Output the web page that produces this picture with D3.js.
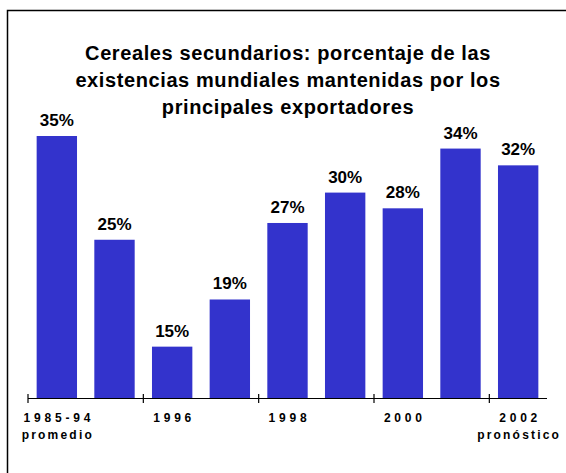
<!DOCTYPE html>
<html>
<head>
<meta charset="utf-8">
<script src="https://cdn.jsdelivr.net/npm/d3@7"></script>
<style>
  body { margin: 0; background: #fff; }
  svg { display: block; font-family: Arial, "Liberation Sans", sans-serif; }
</style>
</head>
<body>
<div id="chart"></div>
<script>
// Data
const categories = ['1985-94', '1995', '1996', '1997', '1998', '1999', '2000', '2001', '2002'];
const shares = [35, 25.1, 14.9, 19.4, 26.7, 29.6, 28.1, 33.8, 32.2];
// Only every second category gets a label, some with a second line
const tickLabels = ['1985-94', '', '1996', '', '1998', '', '2000', '', '2002'];
const tickSubLabels = ['promedio', '', '', '', '', '', '', '', 'pronóstico'];
const titleLines = [
  'Cereales secundarios: porcentaje de las',
  'existencias mundiales mantenidas por los',
  'principales exportadores'
];

const chartWidth = 566;
const chartHeight = 473;
const axisY = 398;

const svg = d3.select('#chart')
  .append('svg')
  .attr('width', chartWidth)
  .attr('height', chartHeight);

// Frame, cropped on the right and bottom like the original
svg.append('rect')
  .attr('x', 7.5)
  .attr('y', 10.5)
  .attr('width', 700)
  .attr('height', 600)
  .attr('fill', '#fff')
  .attr('stroke', '#000')
  .attr('stroke-width', 1.5);

// Title
svg.append('text')
  .attr('text-anchor', 'middle')
  .attr('font-size', 20)
  .attr('font-weight', 'bold')
  .attr('letter-spacing', 0.6)
  .selectAll('tspan')
  .data(titleLines)
  .enter()
  .append('tspan')
  .attr('x', 288)
  .attr('y', (d, i) => 60 + i * 27)
  .text(d => d);

// Scales: band for categories, linear for the value (axis does not start at 0)
const x = d3.scaleBand()
  .domain(categories)
  .range([28, 547])
  .paddingInner(0.3)
  .paddingOuter(0.15);

const y = d3.scaleLinear()
  .domain([10, 35])
  .range([axisY, 136]);

// Bars
svg.selectAll('.bar')
  .data(shares)
  .enter()
  .append('rect')
  .attr('class', 'bar')
  .attr('x', (d, i) => x(categories[i]))
  .attr('y', d => y(d))
  .attr('width', x.bandwidth())
  .attr('height', d => axisY - y(d))
  .attr('fill', '#3333cc');

// Value labels above bars
svg.selectAll('.value')
  .data(shares)
  .enter()
  .append('text')
  .attr('class', 'value')
  .attr('x', (d, i) => x(categories[i]) + x.bandwidth() / 2)
  .attr('y', d => y(d) - 10)
  .attr('text-anchor', 'middle')
  .attr('font-size', 17)
  .attr('font-weight', 'bold')
  .text(d => Math.round(d) + '%');

// X axis: line plus ticks at the left edge of every second category
const axis = svg.append('g').attr('class', 'axis');
axis.append('line')
  .attr('x1', x.range()[0])
  .attr('x2', x.range()[1])
  .attr('y1', axisY + 0.5)
  .attr('y2', axisY + 0.5)
  .attr('stroke', '#000')
  .attr('stroke-width', 1.2);

const step = x.step();
axis.selectAll('.tick')
  .data(categories.filter((d, i) => i % 2 === 0))
  .enter()
  .append('line')
  .attr('class', 'tick')
  .attr('x1', d => x(d) - step * x.paddingInner() / 2 - (d === categories[0] ? step * (x.paddingOuter() - x.paddingInner() / 2) : 0))
  .attr('x2', function () { return d3.select(this).attr('x1'); })
  .attr('y1', axisY - 4)
  .attr('y2', axisY + 5)
  .attr('stroke', '#000')
  .attr('stroke-width', 1.2);

// Tick labels, two lines where needed
axis.selectAll('.tick-label')
  .data(tickLabels)
  .enter()
  .append('text')
  .attr('class', 'tick-label')
  .attr('x', (d, i) => x(categories[i]) + x.bandwidth() / 2 + 2)
  .attr('y', axisY + 24)
  .attr('text-anchor', 'middle')
  .attr('font-size', 12)
  .attr('font-weight', 'bold')
  .attr('letter-spacing', 3.8)
  .text(d => d);

axis.selectAll('.tick-sublabel')
  .data(tickSubLabels)
  .enter()
  .append('text')
  .attr('class', 'tick-sublabel')
  .attr('x', (d, i) => x(categories[i]) + x.bandwidth() / 2 + 1)
  .attr('y', axisY + 41)
  .attr('text-anchor', 'middle')
  .attr('font-size', 12)
  .attr('font-weight', 'bold')
  .attr('letter-spacing', 2.2)
  .text(d => d);
</script>
</body>
</html>
